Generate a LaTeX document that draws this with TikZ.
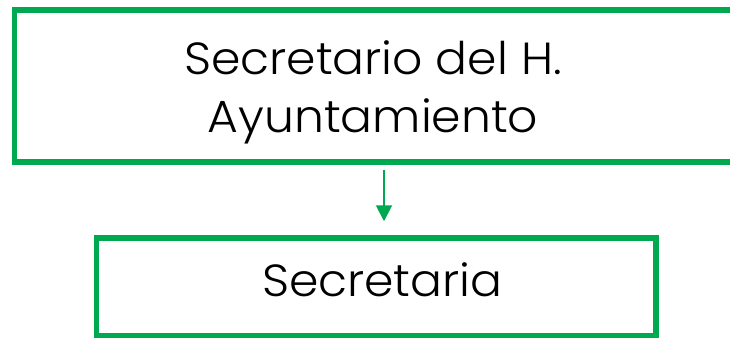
\documentclass[tikz,border=0pt]{standalone}
\usepackage{fontspec}
\setmainfont{Poppins}[UprightFont=* Light,FakeStretch=1.05]
\usetikzlibrary{arrows.meta}
\definecolor{verde}{RGB}{0,168,80}

\begin{document}
\begin{tikzpicture}[x=1pt,y=1pt,
  caja/.style={rectangle,draw=verde,line width=5.5pt,align=center,
    font=\fontsize{45}{58}\selectfont,inner sep=0pt},
  flecha/.style={draw=verde,line width=2pt,-{Triangle[width=16pt,length=16pt]}}]
\clip (0,0) rectangle (730,-337);
\node[caja,minimum width=739pt,minimum height=152pt] (sec) at (384,-86)
  {\kern-22pt\raisebox{-12pt}[0pt][0pt]{\begin{tabular}{@{}c@{}}Secretario del H.\\Ayuntamiento\end{tabular}}};
\node[caja,minimum width=559.5pt,minimum height=98pt] (secr) at (376.25,-287)
  {\kern12pt\raisebox{-9pt}[0pt][0pt]{Secretaria}};

\draw[flecha,shorten <=5pt,shorten >=14pt] (sec.south) -- (sec.south |- secr.north);
\end{tikzpicture}
\end{document}
